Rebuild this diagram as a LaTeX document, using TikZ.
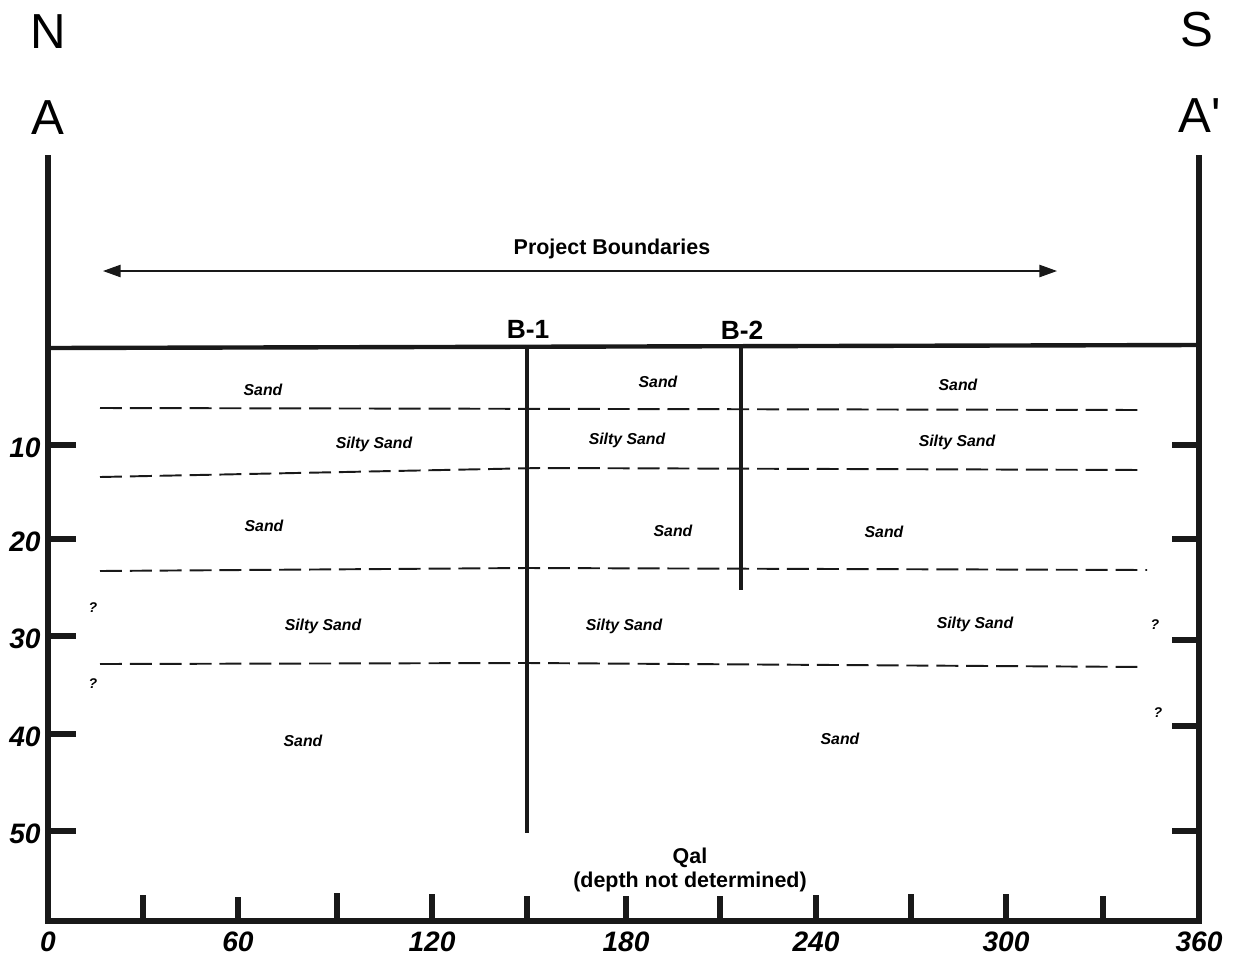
\documentclass[tikz,border=0pt]{standalone}
\usepackage{fontspec}
\setmainfont{Liberation Sans}
\usetikzlibrary{arrows.meta}
\begin{document}
\begin{tikzpicture}[x=0.02cm,y=-0.02cm,
  axis/.style={line width=2.9pt,color=black!90},
  tk/.style={line width=2.9pt,color=black!90},
  surf/.style={line width=2.5pt,color=black!90},
  bore/.style={line width=2.3pt,color=black!90},
  contact/.style={line width=1.1pt,color=black!90,dash pattern=on 12.5pt off 4.5pt},
  soil/.style={font=\fontsize{9}{10}\selectfont\bfseries\itshape,inner sep=0pt},
  qm/.style={font=\fontsize{8}{9}\selectfont\bfseries\itshape,inner sep=0pt},
  num/.style={font=\fontsize{16}{17}\selectfont\bfseries\itshape,inner sep=0pt},
  big/.style={font=\fontsize{28}{30}\selectfont,inner sep=0pt},
  lab/.style={font=\fontsize{12.2}{14}\selectfont\bfseries,inner sep=0pt,align=center}]
\useasboundingbox (0,0) rectangle (1235,961);
% frame
\coordinate (LT) at (48,155); \coordinate (LB) at (48,921);
\coordinate (RT) at (1199,155); \coordinate (RB) at (1199,921);
\draw[axis] (LT) -- (LB) -- (RB) -- (RT);
% surface
\coordinate (SL) at (48,348); \coordinate (SR) at (1199,345);
\draw[surf] (SL) -- (SR);
% headers
\node[big] (N) at (48,32) {N};
\node[big] (S) at (1197,30) {S};
\node[big] (A) at (48,118) {A};
\node[big] (Ap) at (1200,116) {A\textquotesingle};
% project boundaries
\coordinate (PB1) at (103,271); \coordinate (PB2) at (1057,271);
\draw[line width=0.8pt,color=black!90,{Triangle[length=10pt,width=7pt]}-{Triangle[length=10pt,width=7pt]}] (PB1) -- (PB2);
\node[lab] (pb) at (612,249) {Project Boundaries};
% left ticks
\foreach \y/\t [count=\i] in {445/10,539/20,636/30,734/40,831/50}{
  \coordinate (lt\i) at (48,\y); \coordinate (lte\i) at (76,\y);
  \draw[tk] (lt\i) -- (lte\i);
  \node[num] (ln\i) at (25,\y+3) {\t};
}
% right ticks
\foreach \y [count=\i] in {445,539,640,726,831}{
  \coordinate (rt\i) at (1199,\y); \coordinate (rte\i) at (1172,\y);
  \draw[tk] (rt\i) -- (rte\i);
}
% bottom ticks
\foreach \x/\h [count=\i] in {143/895,238/897,337/893,432/894,527/896,626/896,720/896,816/895,911/894,1006/894,1103/896}{
  \coordinate (bt\i) at (\x,921); \coordinate (bte\i) at (\x,\h);
  \draw[tk] (bt\i) -- (bte\i);
}
\foreach \x/\t [count=\i] in {48/0,238/60,432/120,626/180,816/240,1006/300,1199/360}{
  \node[num] (bn\i) at (\x,942) {\t};
}
% contacts
\coordinate (c1a) at (100,408); \coordinate (c1b) at (1145,410);
\draw[contact] (c1a) -- (c1b);
\coordinate (c2a) at (100,477); \coordinate (c2m) at (540,468); \coordinate (c2b) at (1145,470);
\draw[contact] (c2a) -- (c2m) -- (c2b);
\coordinate (c3a) at (100,571); \coordinate (c3m) at (527,568); \coordinate (c3b) at (1147,570);
\draw[contact] (c3a) -- (c3m) -- (c3b);
\coordinate (c4a) at (100,664); \coordinate (c4m) at (527,663); \coordinate (c4b) at (1145,667);
\draw[contact] (c4a) -- (c4m) -- (c4b);
% borings
\coordinate (b1t) at (527,348); \coordinate (b1b) at (527,833);
\draw[bore] (b1t) -- (b1b);
\node[lab,font=\fontsize{15}{16}\selectfont\bfseries] (B1) at (528,329) {B-1};
\coordinate (b2t) at (741,346); \coordinate (b2b) at (741,590);
\draw[bore] (b2t) -- (b2b);
\node[lab,font=\fontsize{15}{16}\selectfont\bfseries] (B2) at (742,330) {B-2};
% soil labels
\node[soil] (s1) at (263,390) {Sand};
\node[soil] (s2) at (658,382) {Sand};
\node[soil] (s3) at (958,385) {Sand};
\node[soil] (s4) at (374,444) {Silty Sand};
\node[soil] (s5) at (627,440) {Silty Sand};
\node[soil] (s6) at (957,442) {Silty Sand};
\node[soil] (s7) at (264,526) {Sand};
\node[soil] (s8) at (673,531) {Sand};
\node[soil] (s9) at (884,532) {Sand};
\node[soil] (s10) at (323,626) {Silty Sand};
\node[soil] (s11) at (624,626) {Silty Sand};
\node[soil] (s12) at (975,624) {Silty Sand};
\node[soil] (s13) at (303,741) {Sand};
\node[soil] (s14) at (840,739) {Sand};
\node[qm] (q1) at (93,608) {?};
\node[qm] (q2) at (93,684) {?};
\node[qm] (q3) at (1155,625) {?};
\node[qm] (q4) at (1158,713) {?};
% Qal
\node[lab] (qal) at (690,858) {Qal};
\node[lab] (qal2) at (690,882) {(depth not determined)};
\end{tikzpicture}
\end{document}
